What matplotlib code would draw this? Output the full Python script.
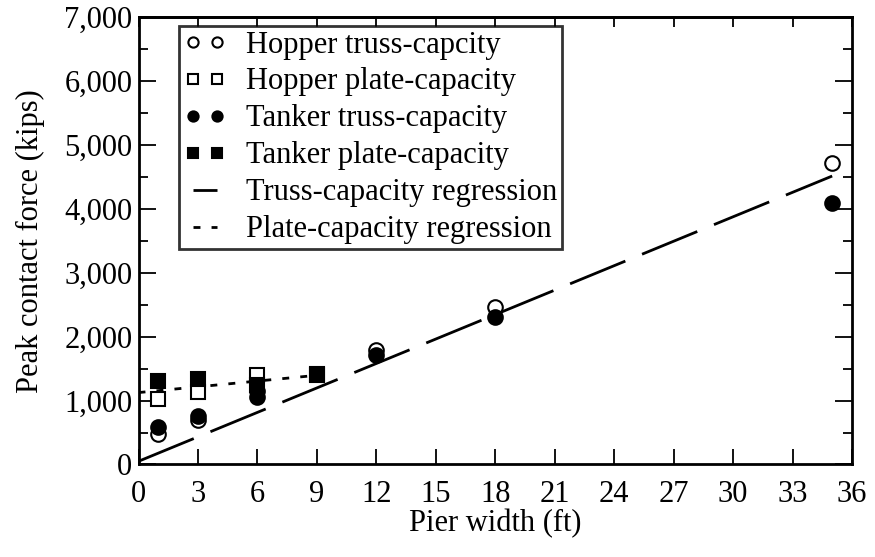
import matplotlib
matplotlib.use("Agg")
import matplotlib.pyplot as plt
from matplotlib.ticker import MultipleLocator, FuncFormatter, NullFormatter

plt.rcParams['font.family'] = ['Liberation Serif', 'DejaVu Serif']

# Data
hopper_truss_x = [1, 3, 6, 12, 18, 35]
hopper_truss_y = [470, 690, 1150, 1790, 2465, 4720]
hopper_plate_x = [1, 3, 6, 9]
hopper_plate_y = [1030, 1130, 1400, 1410]
tanker_truss_x = [1, 3, 6, 12, 18, 35]
tanker_truss_y = [590, 760, 1050, 1705, 2310, 4085]
tanker_plate_x = [1, 3, 6, 9]
tanker_plate_y = [1300, 1330, 1245, 1395]
truss_reg_x = [0, 35]
truss_reg_y = [50, 4512]
plate_reg_x = [0, 9]
plate_reg_y = [1125, 1395]

fig = plt.figure(figsize=(8.75, 5.57), dpi=100)
ax = fig.add_axes([0.1583, 0.1661, 0.8154, 0.8034])

ms = 10.5
ax.plot(truss_reg_x, truss_reg_y, color='black', lw=2.0, dashes=(21.5, 6.5),
        label='Truss-capacity regression', zorder=2)
ax.plot(plate_reg_x, plate_reg_y, color='black', lw=2.0, dashes=(2.5, 4),
        label='Plate-capacity regression', zorder=2)
ax.plot(hopper_truss_x, hopper_truss_y, 'o', ms=ms, mfc='white', mec='black', mew=1.5,
        label='Hopper truss-capcity', zorder=3)
ax.plot(hopper_plate_x, hopper_plate_y, 's', ms=ms, mfc='white', mec='black', mew=1.5,
        label='Hopper plate-capacity', zorder=3)
ax.plot(tanker_truss_x, tanker_truss_y, 'o', ms=ms, mfc='black', mec='black', mew=1.5,
        label='Tanker truss-capacity', zorder=4)
ax.plot(tanker_plate_x, tanker_plate_y, 's', ms=ms, mfc='black', mec='black', mew=1.5,
        label='Tanker plate-capacity', zorder=4)

ax.set_xlim(0, 36)
ax.set_ylim(0, 7000)
ax.xaxis.set_major_locator(MultipleLocator(3))
ax.yaxis.set_major_locator(MultipleLocator(1000))
ax.yaxis.set_minor_locator(MultipleLocator(500))
ax.yaxis.set_major_formatter(FuncFormatter(lambda v, p: f"{int(v):,}"))
ax.tick_params(which='both', direction='in', right=True, width=1.3, labelsize=22)
ax.tick_params(axis='y', which='major', length=12, pad=4.5)
ax.tick_params(axis='y', which='minor', length=6.5)
ax.tick_params(axis='x', which='major', length=11, pad=11)

# shorter ticks along the top edge
top = ax.secondary_xaxis('top')
top.xaxis.set_major_locator(MultipleLocator(3))
top.xaxis.set_major_formatter(NullFormatter())
top.tick_params(direction='in', length=7, width=1.3)
top.spines['top'].set_linewidth(2.0)

for s in ax.spines.values():
    s.set_linewidth(2.0)

ax.set_xlabel('Pier width (ft)', fontsize=22, labelpad=0)
ax.set_ylabel('Peak contact force (kips)', fontsize=22, labelpad=14)

handles, labels = ax.get_legend_handles_labels()
order = [2, 3, 4, 5, 0, 1]
leg = ax.legend([handles[i] for i in order], [labels[i] for i in order],
                loc='upper left', bbox_to_anchor=(0.0568, 0.98), numpoints=2,
                markerscale=0.7, fontsize=22, frameon=True, fancybox=False,
                edgecolor='black', handlelength=1.4, handletextpad=0.65,
                labelspacing=0.26, borderpad=0.15, borderaxespad=0)
leg.get_frame().set_linewidth(2.0)

fig.savefig('out.png', dpi=100)
